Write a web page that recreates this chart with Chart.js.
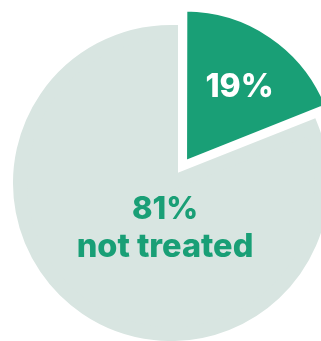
<!DOCTYPE html>
<html>
<head>
<meta charset="utf-8">
<title>Treated share</title>
<script src="https://cdn.jsdelivr.net/npm/chart.js@4"></script>
<style>
  html, body { margin: 0; padding: 0; background: #fff; }
</style>
</head>
<body>
<canvas id="pieChart" width="321" height="341"></canvas>
<script>
const categories = ['treated', 'not treated'];
const shares = [19, 81];
const shareLabels = ['19%', '81%'];

const GREEN = '#199f76';
const PALE = '#d8e5e1';

// writes the two percentages onto the slices
const sliceLabels = {
    id: 'sliceLabels',
    afterDatasetsDraw(chart) {
        const ctx = chart.ctx;
        const arcs = chart.getDatasetMeta(0).data;
        ctx.save();
        ctx.textAlign = 'center';
        ctx.textBaseline = 'alphabetic';

        const p = arcs[0].getCenterPoint();
        ctx.fillStyle = '#fff';
        ctx.font = '800 32px Inter';
        ctx.fillText(shareLabels[0], p.x - 2, p.y + 18);

        const big = arcs[1];
        ctx.fillStyle = GREEN;
        ctx.font = '800 31px Inter';
        ctx.fillText(shareLabels[1], big.x - 6, big.y + 36);
        ctx.font = '800 32.5px Inter';
        ctx.fillText(categories[1], big.x - 6, big.y + 74);
        ctx.restore();
    }
};

new Chart(document.getElementById('pieChart'), {
    type: 'pie',
    data: {
        labels: categories,
        datasets: [{
            data: shares,
            backgroundColor: [GREEN, PALE],
            borderColor: ['#fff', PALE],
            borderWidth: [4, 14],
            borderJoinStyle: 'miter',
            offset: [100, 0],
            clip: false
        }]
    },
    options: {
        responsive: false,
        animation: false,
        events: [],
        radius: 151,
        layout: {
            padding: { left: 21, top: 25, right: 0, bottom: 0 }
        },
        plugins: {
            legend: { display: false },
            tooltip: { enabled: false }
        }
    },
    plugins: [sliceLabels]
});
</script>
</body>
</html>
